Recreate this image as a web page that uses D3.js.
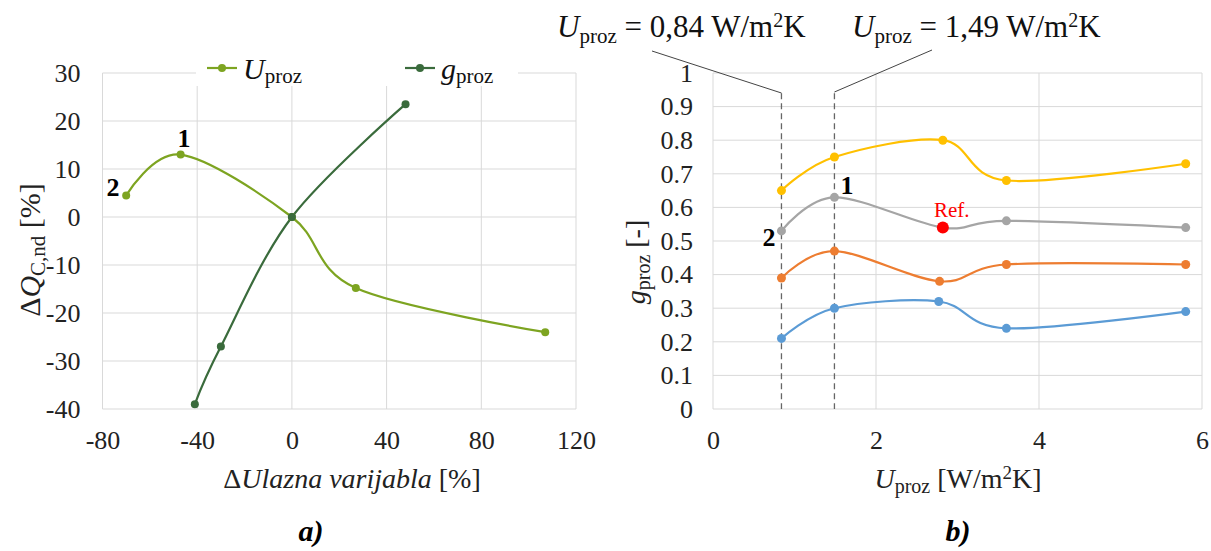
<!DOCTYPE html>
<html><head><meta charset="utf-8">
<script src="https://cdn.jsdelivr.net/npm/d3@7"></script>
<style>body{margin:0;background:#fff}svg{display:block}</style>
</head><body>
<svg id="c" width="1211" height="551" font-family="Liberation Serif"></svg>
<script>
// ---------- data: chart a) ----------
const uX = [-70, -47, 0, 27, 107];
const uY = [4.5, 13, 0, -14.8, -24];
const gX = [-41, -30, 0, 48];
const gY = [-39, -27, 0, 23.5];
const aXTicks = [-80, -40, 0, 40, 80, 120];
const aYTicks = [30, 20, 10, 0, -10, -20, -30, -40];
// ---------- data: chart b) ----------
const bXYellow = [0.84, 1.49, 2.82, 3.6, 5.8];
const bYellow = [0.65, 0.75, 0.80, 0.68, 0.73];
const bXGray = [0.84, 1.49, 2.82, 3.6, 5.8];
const bGray = [0.53, 0.63, 0.54, 0.56, 0.54];
const bXOrange = [0.84, 1.49, 2.78, 3.6, 5.8];
const bOrange = [0.39, 0.47, 0.38, 0.43, 0.43];
const bXBlue = [0.84, 1.49, 2.77, 3.6, 5.8];
const bBlue = [0.21, 0.30, 0.32, 0.24, 0.29];
const refPoint = [2.82, 0.54];
const dashedU = [0.84, 1.49];
const bXTicks = [0, 2, 4, 6];
const bYTicks = [0, 0.1, 0.2, 0.3, 0.4, 0.5, 0.6, 0.7, 0.8, 0.9, 1];

const FONT = "Liberation Serif";
const svg = d3.select("#c");
const grid = "#d9d9d9";
const curve = d3.curveCardinal.tension(0);
const txt = (g) => g.append("text").attr("font-family", FONT);
const TICK = 26;

// ============ chart a ============
const ax = d3.scaleLinear().domain([-80, 120]).range([102.5, 576]);
const ay = d3.scaleLinear().domain([-40, 30]).range([409, 73]);
const ga = svg.append("g");
aXTicks.forEach(t => ga.append("line").attr("x1", ax(t)).attr("x2", ax(t)).attr("y1", ay(30)).attr("y2", ay(-40)).attr("stroke", grid).attr("stroke-width", 1));
aYTicks.forEach(t => ga.append("line").attr("x1", ax(-80)).attr("x2", ax(120)).attr("y1", ay(t)).attr("y2", ay(t)).attr("stroke", grid).attr("stroke-width", 1));
const hy = d => String(d).replace("\u2212", "-");
const axA = ga.append("g").attr("transform", `translate(0,${ay(-40)})`).call(d3.axisBottom(ax).tickValues(aXTicks).tickSize(0).tickPadding(22).tickFormat(hy));
const ayA = ga.append("g").attr("transform", `translate(${ax(-80)},0)`).call(d3.axisLeft(ay).tickValues(aYTicks).tickSize(0).tickPadding(22).tickFormat(hy));
[axA, ayA].forEach(g => { g.attr("font-family", FONT); g.select(".domain").remove(); g.selectAll("text").attr("font-size", TICK).attr("fill", "#222").attr("font-family", FONT); });

const uCol = "#7da421", gCol = "#3a6b3c";
const lineA = d3.line().x(d => ax(d[0])).y(d => ay(d[1])).curve(curve);
const uData = uX.map((x, i) => [x, uY[i]]);
const gData = gX.map((x, i) => [x, gY[i]]);
ga.append("path").attr("d", lineA(uData)).attr("fill", "none").attr("stroke", uCol).attr("stroke-width", 2.2);
ga.append("path").attr("d", lineA(gData)).attr("fill", "none").attr("stroke", gCol).attr("stroke-width", 2.2);
ga.selectAll(".pu").data(uData).join("circle").attr("cx", d => ax(d[0])).attr("cy", d => ay(d[1])).attr("r", 4).attr("fill", uCol);
ga.selectAll(".pg").data(gData).join("circle").attr("cx", d => ax(d[0])).attr("cy", d => ay(d[1])).attr("r", 4).attr("fill", gCol);

// legend a
ga.append("rect").attr("x", 196).attr("y", 56).attr("width", 322).attr("height", 30).attr("fill", "#fff");
function legendItem(x, col, main) {
  ga.append("line").attr("x1", x).attr("x2", x + 30).attr("y1", 68).attr("y2", 68).attr("stroke", col).attr("stroke-width", 2.2);
  ga.append("circle").attr("cx", x + 15).attr("cy", 68).attr("r", 4).attr("fill", col);
  const t = txt(ga).attr("x", x + 36).attr("y", 79).attr("font-size", 30).attr("fill", "#111");
  t.append("tspan").attr("font-style", "italic").text(main);
  t.append("tspan").attr("font-size", 21).attr("dy", 4).text("proz");
}
legendItem(207, uCol, "U");
legendItem(405, gCol, "g");

txt(ga).attr("x", 184).attr("y", 147).attr("font-size", 26).attr("font-weight", "bold").attr("text-anchor", "middle").text("1");
txt(ga).attr("x", 113).attr("y", 196).attr("font-size", 26).attr("font-weight", "bold").attr("text-anchor", "middle").text("2");

// axis titles a
const tA = txt(ga).attr("x", 352).attr("y", 488).attr("text-anchor", "middle").attr("font-size", 28).attr("fill", "#222");
tA.append("tspan").text("Δ");
tA.append("tspan").attr("font-style", "italic").text("Ulazna varijabla");
tA.append("tspan").text(" [%]");
const yA = txt(ga).attr("transform", "translate(40,250) rotate(-90)").attr("text-anchor", "middle").attr("font-size", 30).attr("fill", "#222");
yA.append("tspan").text("Δ");
yA.append("tspan").attr("font-style", "italic").text("Q");
yA.append("tspan").attr("font-size", 21).attr("dy", 5).text("C,nd");
yA.append("tspan").attr("dy", -5).text(" [%]");
txt(ga).attr("x", 311).attr("y", 541).attr("text-anchor", "middle").attr("font-size", 30).attr("font-weight", "bold").attr("font-style", "italic").text("a)");

// ============ chart b ============
const bx = d3.scaleLinear().domain([0, 6]).range([713, 1202]);
const by = d3.scaleLinear().domain([0, 1]).range([409, 73]);
const gb = svg.append("g");
bXTicks.forEach(t => gb.append("line").attr("x1", bx(t)).attr("x2", bx(t)).attr("y1", by(1)).attr("y2", by(0)).attr("stroke", grid));
bYTicks.forEach(t => gb.append("line").attr("x1", bx(0)).attr("x2", bx(6)).attr("y1", by(t)).attr("y2", by(t)).attr("stroke", grid));
const axB = gb.append("g").attr("transform", `translate(0,${by(0)})`).call(d3.axisBottom(bx).tickValues(bXTicks).tickSize(0).tickPadding(22).tickFormat(d3.format("d")));
const ayB = gb.append("g").attr("transform", `translate(${bx(0)},0)`).call(d3.axisLeft(by).tickValues(bYTicks).tickSize(0).tickPadding(20).tickFormat(d => d === 0 || d === 1 ? String(d) : d.toFixed(1)));
[axB, ayB].forEach(g => { g.attr("font-family", FONT); g.select(".domain").remove(); g.selectAll("text").attr("font-size", TICK).attr("fill", "#222").attr("font-family", FONT); });

// dashed verticals
dashedU.forEach(u => gb.append("line").attr("x1", bx(u)).attr("x2", bx(u)).attr("y1", by(0.94)).attr("y2", by(0)).attr("stroke", "#666").attr("stroke-width", 1.3).attr("stroke-dasharray", "6,4"));

const lineB = d3.line().x(d => bx(d[0])).y(d => by(d[1])).curve(curve);
const seriesB = [
  {xs: bXBlue, ys: bBlue, c: "#5b9bd5"},
  {xs: bXOrange, ys: bOrange, c: "#ed7d31"},
  {xs: bXGray, ys: bGray, c: "#a5a5a5"},
  {xs: bXYellow, ys: bYellow, c: "#ffc000"}
];
seriesB.forEach(s => {
  const d = s.xs.map((x, i) => [x, s.ys[i]]);
  gb.append("path").attr("d", lineB(d)).attr("fill", "none").attr("stroke", s.c).attr("stroke-width", 2.2);
  gb.selectAll(null).data(d).join("circle").attr("cx", p => bx(p[0])).attr("cy", p => by(p[1])).attr("r", 4.5).attr("fill", s.c);
});
gb.append("circle").attr("cx", bx(refPoint[0])).attr("cy", by(refPoint[1])).attr("r", 6).attr("fill", "#ff0000");
txt(gb).attr("x", bx(refPoint[0]) + 9).attr("y", by(refPoint[1]) - 11).attr("text-anchor", "middle").attr("font-size", 21).attr("fill", "#ff0000").text("Ref.");
txt(gb).attr("x", 847).attr("y", 194).attr("font-size", 26).attr("font-weight", "bold").attr("text-anchor", "middle").text("1");
txt(gb).attr("x", 769).attr("y", 246).attr("font-size", 26).attr("font-weight", "bold").attr("text-anchor", "middle").text("2");

// annotations
function uLabel(x, val) {
  const t = txt(gb).attr("x", x).attr("y", 37).attr("font-size", 31).attr("fill", "#111");
  t.append("tspan").attr("font-style", "italic").text("U");
  t.append("tspan").attr("font-size", 21).attr("dy", 6).text("proz");
  t.append("tspan").attr("dy", -6).text(" = " + val + " W/m");
  t.append("tspan").attr("font-size", 20).attr("dy", -10).text("2");
  t.append("tspan").attr("dy", 10).text("K");
}
uLabel(557, "0,84");
uLabel(852, "1,49");
gb.append("line").attr("x1", 652).attr("y1", 51).attr("x2", bx(dashedU[0])).attr("y2", 93).attr("stroke", "#444").attr("stroke-width", 1);
gb.append("line").attr("x1", 932).attr("y1", 50).attr("x2", bx(dashedU[1])).attr("y2", 92).attr("stroke", "#444").attr("stroke-width", 1);

// axis titles b
const tB = txt(gb).attr("x", 958).attr("y", 488).attr("text-anchor", "middle").attr("font-size", 28).attr("fill", "#222");
tB.append("tspan").attr("font-style", "italic").text("U");
tB.append("tspan").attr("font-size", 20).attr("dy", 5).text("proz");
tB.append("tspan").attr("dy", -5).text(" [W/m");
tB.append("tspan").attr("font-size", 19).attr("dy", -9).text("2");
tB.append("tspan").attr("dy", 9).text("K]");
const yB = txt(gb).attr("transform", "translate(645,262) rotate(-90)").attr("text-anchor", "middle").attr("font-size", 28).attr("fill", "#222");
yB.append("tspan").attr("font-style", "italic").text("g");
yB.append("tspan").attr("font-size", 20).attr("dy", 5).text("proz");
yB.append("tspan").attr("dy", -5).text(" [-]");
txt(gb).attr("x", 958).attr("y", 541).attr("text-anchor", "middle").attr("font-size", 30).attr("font-weight", "bold").attr("font-style", "italic").text("b)");
</script>
</body></html>
